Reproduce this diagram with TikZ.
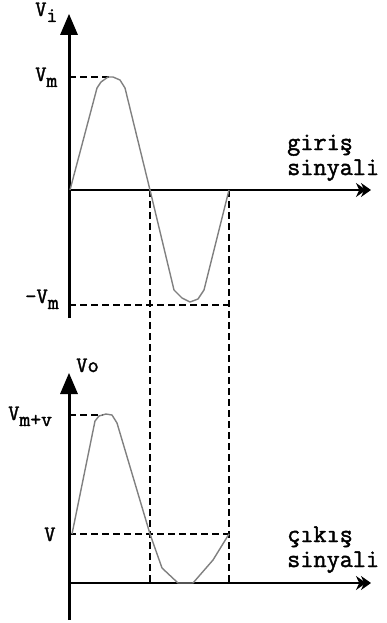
\documentclass[tikz,border=0pt]{standalone}
\usepackage{fontspec}
\newfontfamily\lmm[FakeBold=1.6]{Latin Modern Mono}
\usetikzlibrary{arrows.meta}
\tikzset{
  axisv/.style={line width=3pt},
  axish/.style={line width=1.6pt,-{Stealth[length=10pt,width=14pt,sep=-5pt]Stealth[length=10pt,width=14pt]}},
  guide/.style={line width=1.3pt,dash pattern=on 7pt off 4pt},
  wave/.style={line width=1.4pt,draw={rgb,255:red,128;green,128;blue,128},line join=round},
  lbl/.style={inner sep=0pt,font=\lmm\fontsize{22}{22}\selectfont},
  big/.style={inner sep=0pt,anchor=base west,font=\lmm\fontsize{25.5}{25.5}\selectfont}
}
\newcommand{\sbs}[1]{\raisebox{-6pt}{\lmm\fontsize{21}{21}\selectfont #1}}
\begin{document}
\begin{tikzpicture}[x=1pt,y=-1pt]
\useasboundingbox (0,0) rectangle (387,623);
% ---------- top graph ----------
\coordinate (ta) at (69,318);
\coordinate (tt) at (69,34);
\coordinate (to) at (69,190);
\coordinate (tx) at (371,190);
\draw[axisv] (ta) -- (tt);
\fill (60,35) -- (69,14) -- (78,35) -- cycle;
\draw[axish] (to) -- (tx);
\draw[guide] (69,77) -- (110,77);
\draw[guide] (69,305) -- (229,305);
\draw[guide] (150,190) -- (150,583);
\draw[guide] (229,190) -- (229,583);
\draw[wave] (70,190) -- (97,88) -- (101,82) -- (108,77) -- (113,77) -- (120,80) -- (125,88)
  -- (150,190) -- (174,290) -- (182,298) -- (190,302) -- (198,299) -- (204,290) -- (229,190);
\node[lbl,anchor=base west] (vi) at (35,16) {V\sbs{i}};
\node[lbl,anchor=base west] (vm) at (35,81) {V\sbs{m}};
\node[lbl,anchor=base west] (nvm) at (25,303) {-V\sbs{m}};
\node[big] (g1) at (287,150) {giriş};
\node[big] (g2) at (287,175) {sinyali};
% ---------- bottom graph ----------
\coordinate (ba) at (69,620);
\coordinate (bt) at (69,393);
\coordinate (bo) at (69,583);
\coordinate (bx) at (371,583);
\draw[axisv] (ba) -- (bt);
\fill (60,394) -- (69,373) -- (78,394) -- cycle;
\draw[axish] (bo) -- (bx);
\draw[guide] (69,415) -- (103,415);
\draw[guide] (69,534) -- (229,534);
\draw[wave] (72,534) -- (95,421) -- (99,416) -- (106,414) -- (112,415) -- (117,423)
  -- (150,534) -- (162,568) -- (178,583) -- (193,583) -- (213,560) -- (229,534);
\node[lbl,anchor=base west] (vo) at (76,372) {Vo};
\node[lbl,anchor=base west] (vmv) at (8,420) {V\sbs{m+v}};
\node[lbl,anchor=base west] (vv) at (44,541) {V};
\node[big] (c1) at (287,542) {çıkış};
\node[big] (c2) at (287,567) {sinyali};
\end{tikzpicture}
\end{document}
